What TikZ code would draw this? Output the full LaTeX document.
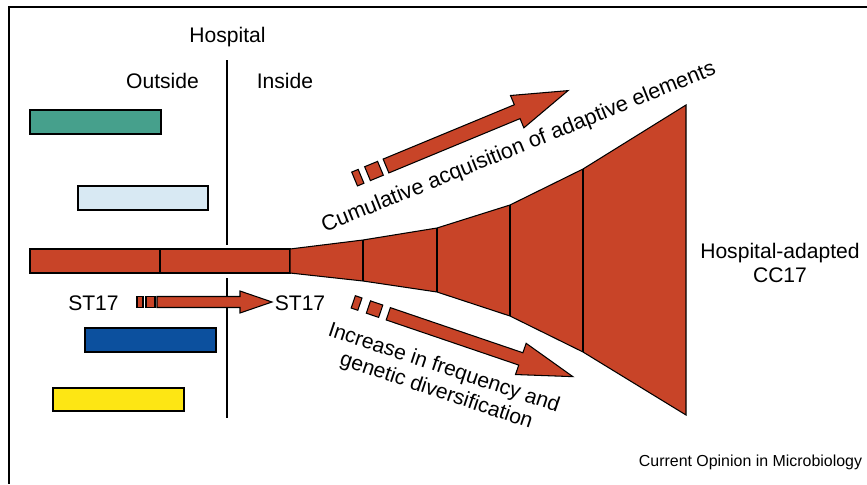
\documentclass[tikz,border=0pt]{standalone}
\usepackage{fontspec}
\setmainfont{Liberation Sans}

\definecolor{cloneRed}{RGB}{200,68,40}
\definecolor{cloneTeal}{RGB}{70,160,140}
\definecolor{cloneSky}{RGB}{216,233,243}
\definecolor{cloneBlue}{RGB}{12,80,158}
\definecolor{cloneYellow}{RGB}{253,230,20}

\begin{document}
\begin{tikzpicture}[x=0.3mm,y=-0.3mm,
        bar/.style={draw=black,line width=0.9pt},
        lbl/.style={font=\fontsize{18}{20.5}\selectfont,inner sep=0pt}]
        \useasboundingbox (0,0) rectangle (867,484);

        % frame (top and left only)
        \draw[line width=1.7pt] (867,7) -- (9,7) -- (9,484);

        \node[lbl,anchor=base] (hosp) at (227.5,42.5) {Hospital};
        \node[lbl,anchor=base] (outside) at (162.5,88) {Outside};
        \node[lbl,anchor=base] (inside) at (285,88) {Inside};

        % hospital wall
        \draw[line width=1pt] (227,60) -- (227,245);
        \draw[line width=1pt] (227,278) -- (227,418);

        % other clones
        \draw[bar,fill=cloneTeal] (30,110) rectangle (161,134);
        \draw[bar,fill=cloneSky] (78,186) rectangle (208,210);
        \draw[bar,fill=cloneBlue] (85,328) rectangle (216,352);
        \draw[bar,fill=cloneYellow] (53,388) rectangle (184,411);

        % ST17 lineage widening into CC17
        \draw[bar,fill=cloneRed] (30,249) rectangle (160,273);
        \draw[bar,fill=cloneRed] (160,249) rectangle (290,273);
        \draw[bar,fill=cloneRed] (290,249) -- (363,240) -- (437,228) -- (510,205)
            -- (583,169) -- (686,105) -- (686,415) -- (583,352) -- (510,316)
            -- (437,292) -- (363,281) -- (290,273) -- cycle;
        \draw[bar] (363,240) -- (363,281);
        \draw[bar] (437,228) -- (437,292);
        \draw[bar] (510,205) -- (510,316);
        \draw[bar] (583,169) -- (583,352);

        % ST17 moving inside
        \node[lbl,anchor=base] (st17out) at (93.5,310) {ST17};
        \node[lbl,anchor=base] (st17in) at (300,310) {ST17};
        \draw[bar,fill=cloneRed] (137,296.5) rectangle (143,307.5);
        \draw[bar,fill=cloneRed] (146,296.5) rectangle (155,307.5);
        \draw[bar,fill=cloneRed] (157,296.5) -- (240,296.5) -- (240,291) -- (272,302)
            -- (240,313) -- (240,307.5) -- (157,307.5) -- cycle;

        % upper arrow
        \begin{scope}[shift={(386,166)},rotate=22.5]
            \draw[bar,fill=cloneRed] (-34,-7.5) rectangle (-27,7.5);
            \draw[bar,fill=cloneRed] (-20,-7.5) rectangle (-6,7.5);
            \draw[bar,fill=cloneRed] (0,-7.5) -- (142,-7.5) -- (142,-17.5) -- (197,0)
                -- (142,17.5) -- (142,7.5) -- (0,7.5) -- cycle;
        \end{scope}

        % lower arrow
        \begin{scope}[shift={(388.3,313.8)},rotate=-18.8]
            \draw[bar,fill=cloneRed] (-37,-6.5) rectangle (-30,6.5);
            \draw[bar,fill=cloneRed] (-21,-6.5) rectangle (-8,6.5);
            \draw[bar,fill=cloneRed] (0,-6.5) -- (140,-6.5) -- (140,-16.5) -- (195,0)
                -- (140,16.5) -- (140,6.5) -- (0,6.5) -- cycle;
        \end{scope}

        \node[lbl,anchor=base,rotate=22,font=\fontsize{18.5}{21}\selectfont] (cumul)
            at (521,153) {Cumulative acquisition of adaptive elements};
        \node[lbl,align=center,rotate=-18.5] (incr) at (440,380)
            {Increase in frequency and\\genetic diversification};
        \node[lbl,align=center] (adapted) at (780,263) {Hospital-adapted\\CC17};

        \node[font=\fontsize{13.6}{16}\selectfont,inner sep=0pt,anchor=base] (journal)
            at (750.5,466.5) {Current Opinion in Microbiology};
\end{tikzpicture}
\end{document}
